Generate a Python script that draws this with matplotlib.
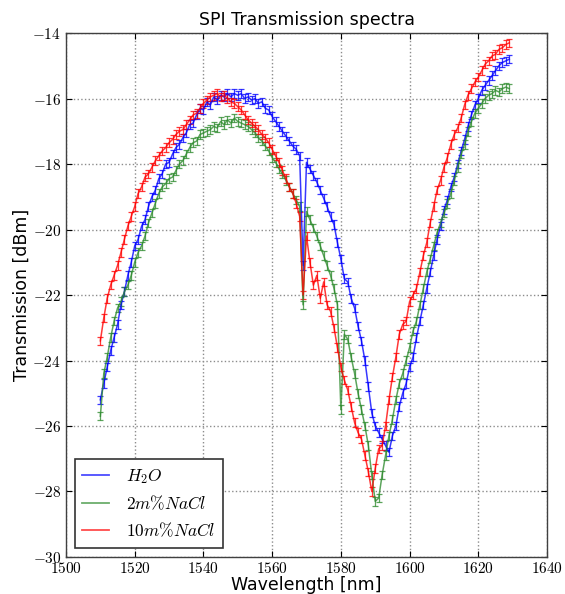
import numpy as np
import matplotlib
matplotlib.use("Agg")
import matplotlib.pyplot as plt
from matplotlib.ticker import FuncFormatter
from matplotlib.lines import Line2D

wavelength = np.arange(1510, 1630)

h2o = [-25.2, -24.7, -24.2, -23.7, -23.3, -22.9, -22.3, -21.9, -21.4, -21.0,
       -20.5, -20.3, -19.9, -19.7, -19.3, -19.0, -18.8, -18.45, -18.3, -18.0,
       -17.95, -17.7, -17.5, -17.4, -17.2, -17.05, -16.8, -16.75, -16.5, -16.3,
       -16.35, -16.1, -16.2, -15.95, -16.05, -15.9, -15.95, -15.85, -15.95, -15.85,
       -15.9, -15.85, -16.0, -15.95, -16.05, -16.0, -16.15, -16.1, -16.3, -16.35,
       -16.55, -16.7, -16.85, -17.0, -17.15, -17.3, -17.45, -17.55, -17.75, -21.1,
       -17.95, -18.15, -18.35, -18.55, -18.8, -19.05, -19.3, -19.6, -19.85, -20.4,
       -20.9, -21.5, -21.6, -22.1, -22.4, -22.95, -23.4, -24.0, -24.8, -25.6,
       -26.0, -26.2, -26.4, -26.6, -26.8, -26.3, -26.0, -25.4, -25.0, -24.7,
       -24.2, -23.9, -23.3, -22.8, -22.3, -21.8, -21.3, -20.8, -20.3, -19.9,
       -19.4, -19.1, -18.7, -18.4, -18.0, -17.6, -17.25, -16.85, -16.5, -16.2,
       -16.0, -15.75, -15.6, -15.45, -15.3, -15.15, -15.0, -14.9, -14.85, -14.8]

nacl2 = [-25.7, -24.4, -23.9, -23.3, -22.8, -22.4, -22.2, -21.9, -21.7, -21.4,
         -21.0, -20.7, -20.5, -20.2, -19.8, -19.5, -19.2, -18.9, -18.7, -18.6,
         -18.45, -18.4, -18.2, -18.0, -17.9, -17.7, -17.5, -17.35, -17.3, -17.1,
         -17.05, -17.0, -16.95, -16.85, -16.9, -16.7, -16.8, -16.65, -16.75, -16.6,
         -16.7, -16.75, -16.8, -16.85, -16.95, -17.05, -17.2, -17.3, -17.45, -17.6,
         -17.8, -17.95, -18.15, -18.3, -18.5, -18.7, -18.9, -19.1, -19.3, -22.3,
         -19.45, -19.7, -19.95, -20.2, -20.5, -20.8, -21.1, -21.4, -21.8, -22.3,
         -25.5, -23.2, -23.35, -23.9, -24.4, -25.0, -25.5, -26.0, -26.6, -27.5,
         -28.3, -28.2, -27.5, -26.9, -26.3, -25.8, -25.2, -24.7, -24.4, -24.0,
         -23.6, -23.1, -22.8, -22.3, -21.8, -21.3, -20.9, -20.5, -20.1, -19.8,
         -19.5, -19.2, -18.9, -18.5, -18.1, -17.7, -17.4, -17.0, -16.7, -16.45,
         -16.3, -16.15, -16.0, -15.9, -15.85, -15.75, -15.8, -15.7, -15.65, -15.7]

nacl10 = [-23.4, -22.7, -22.1, -21.7, -21.4, -21.1, -20.7, -20.3, -19.9, -19.6,
          -19.3, -18.9, -18.7, -18.4, -18.3, -18.1, -17.9, -17.75, -17.6, -17.5,
          -17.35, -17.25, -17.1, -17.0, -16.95, -16.8, -16.65, -16.5, -16.45, -16.3,
          -16.15, -16.05, -15.95, -15.9, -15.85, -15.95, -15.9, -16.0, -16.1, -16.15,
          -16.25, -16.35, -16.5, -16.65, -16.75, -16.85, -16.95, -17.1, -17.2, -17.35,
          -17.55, -17.75, -17.95, -18.2, -18.45, -18.7, -18.9, -19.2, -19.6, -22.0,
          -20.2, -21.0, -21.7, -21.4, -22.1, -21.6, -22.3, -22.5, -23.0, -23.6,
          -24.2, -24.6, -24.9, -25.4, -25.9, -26.2, -26.4, -26.9, -27.4, -28.0,
          -27.3, -26.7, -26.6, -26.0, -25.2, -24.5, -23.9, -23.2, -22.9, -22.8,
          -22.2, -22.0, -21.8, -21.3, -20.8, -20.4, -19.8, -19.3, -18.8, -18.5,
          -18.1, -17.8, -17.4, -17.1, -16.9, -16.6, -16.2, -15.9, -15.7, -15.5,
          -15.35, -15.15, -14.95, -14.85, -14.7, -14.65, -14.5, -14.45, -14.35, -14.3]

series_labels = [r"$H_2O$", r"$2m\%NaCl$", r"$10m\%NaCl$"]
series_colors = ["#0000ff", "#2e8b2e", "#ff0000"]
ERR = 0.13

plt.rcParams["mathtext.fontset"] = "cm"
plt.rcParams["font.family"] = ["DejaVu Sans"]

fig = plt.figure(figsize=(5.65, 5.94), dpi=100)
ax = fig.add_axes([0.1168, 0.0623, 0.8514, 0.8821])

handles = []
for vals, lab, col in zip([h2o, nacl2, nacl10], series_labels, series_colors):
    ax.errorbar(wavelength, vals, yerr=ERR, color=col, lw=1.1, elinewidth=0.9,
                capsize=2.2, capthick=0.9, alpha=0.78)
    handles.append(Line2D([], [], color=col, lw=1.3, alpha=0.7, label=lab))

ax.set_xlim(1500, 1640)
ax.set_ylim(-30, -14)
ax.set_xticks(np.arange(1500, 1641, 20))
ax.set_yticks(np.arange(-30, -13, 2))
fmt = FuncFormatter(lambda v, p: r"$%d$" % v)
ax.xaxis.set_major_formatter(fmt)
ax.yaxis.set_major_formatter(fmt)
ax.tick_params(direction="in", top=True, right=True, labelsize=11, length=4, width=0.8)
ax.tick_params(axis="x", pad=3)
ax.grid(True, linestyle=":", color="0.55", lw=1.0)
for s in ax.spines.values():
    s.set_linewidth(1.0)
    s.set_color("0.25")

ax.set_title("SPI Transmission spectra", fontsize=12.5)
ax.set_xlabel("Wavelength [nm]", fontsize=12.5, labelpad=0)
ax.set_ylabel("Transmission [dBm]", fontsize=12.5, labelpad=1)

leg = ax.legend(handles=handles, loc="lower left", fontsize=12.5, fancybox=False,
                framealpha=1, edgecolor="0.2", borderaxespad=0.5,
                handlelength=1.5, handletextpad=1.0, borderpad=0.45,
                labelspacing=0.5)
leg.get_frame().set_linewidth(1.2)

fig.savefig("out.png", dpi=100)
